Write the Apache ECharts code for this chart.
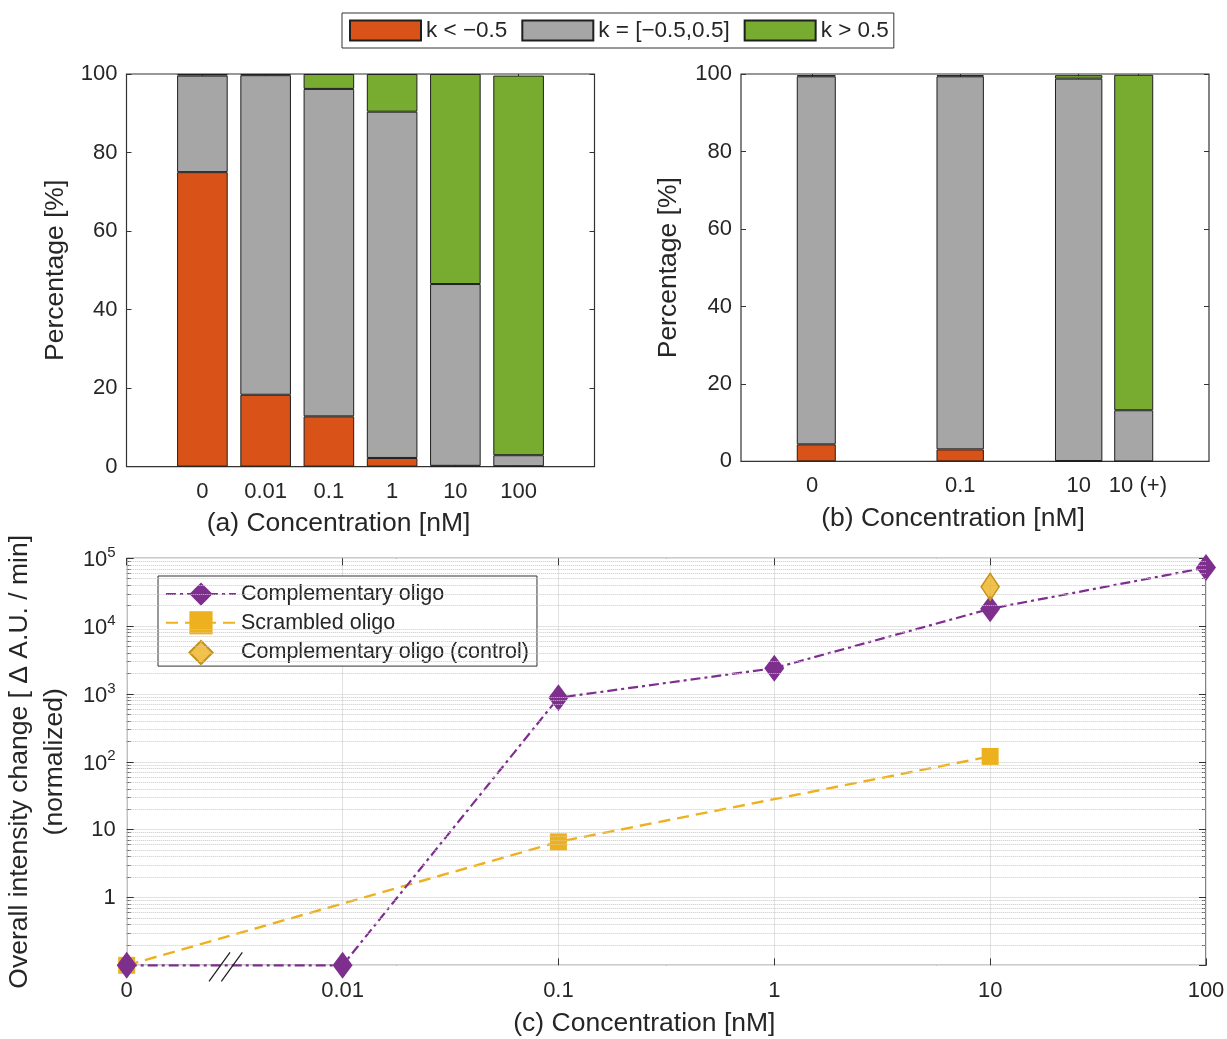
<!DOCTYPE html>
<html><head><meta charset="utf-8">
<script src="https://cdn.jsdelivr.net/npm/echarts@6/dist/echarts.min.js"></script>
<style>html,body{margin:0;padding:0;background:#fff}#c{width:1227px;height:1039px}</style>
</head><body><div id="c"></div>
<script>
// ---------- data ----------
const legendNames = ['k < \u22120.5', 'k = [\u22120.5,0.5]', 'k > 0.5'];
const catsA = ['0', '0.01', '0.1', '1', '10', '100'];
const lowA  = [75.0, 18.3, 12.8, 2.2, 0.2, 0.1];
const midA  = [24.6, 81.4, 83.4, 88.2, 46.3, 2.8];
const highA = [0.4, 0.3, 3.8, 9.6, 53.5, 96.7];
const catsB = ['0', '0.1', '10', '10 (+)'];
const lowB  = [4.4, 3.1, 0.1, 0.0];
const midB  = [95.0, 96.3, 98.7, 13.2];
const highB = [0.3, 0.3, 0.9, 86.6];
const yTicksAB = [0, 20, 40, 60, 80, 100];
const catsC = ['0', '0.01', '0.1', '1', '10', '100'];
const lineNames = ['Complementary oligo', 'Scrambled oligo', 'Complementary oligo (control)'];
const compC = [0.1, 0.1, 880, 2400, 18000, 73000];
const scrC  = [0.1, null, 6.6, null, 120, null];
const ctrlC = [null, null, null, null, 38000, null];

// ---------- layout / style ----------
const posB = [0, 2.5, 4.5, 5.5];              // slot positions (in bar units) of panel (b)
const SLOT = 0.5;                              // slot size used to place panel (b) bars
const PAD = 1.2;                               // axis padding (bar units) left/right of outer bars
const GA = {left: 126.5, top: 74, width: 468, height: 392.6};
const GB = {left: 741, top: 74, width: 468, height: 387.4};
const GC = {left: 126.7, top: 558.3, width: 1079.3, height: 407};
const unitA = GA.width / (catsA.length - 1 + 2 * PAD);
const unitB = GB.width / (posB[posB.length - 1] + 2 * PAD);
const nSlotB = Math.round(posB[posB.length - 1] / SLOT) + 1;
const GA2 = {left: GA.left + (PAD - 0.5) * unitA, top: GA.top, width: catsA.length * unitA, height: GA.height};
const GB2 = {left: GB.left + (PAD - SLOT / 2) * unitB, top: GB.top, width: nSlotB * SLOT * unitB, height: GB.height};
const bwA = unitA * 0.8, bwB = unitB * 0.8;
const slotKeysB = Array.from({length: nSlotB}, (_, j) => 's' + j);
const slotLabelB = slotKeysB.map((k, j) => { const i = posB.findIndex(p => Math.round(p / SLOT) === j); return i >= 0 ? catsB[i] : ''; });
function toSlots(vals) { const a = slotKeysB.map(() => null); posB.forEach((p, i) => { a[Math.round(p / SLOT)] = vals[i]; }); return a; }

const FONT = "'Liberation Sans', Arial, sans-serif";
const TXT = '#262626', FRAME = '#333333';
const colors = ['#D95319', '#A6A6A6', '#77AC30'];
const minorVals = [];
for (let k = -1; k <= 4; k++) for (let m = 2; m <= 9; m++) minorVals.push(Number((m * Math.pow(10, k)).toPrecision(6)));

const frame = {show: true, borderColor: FRAME, borderWidth: 1.2, backgroundColor: 'transparent', outerBoundsMode: 'none', containLabel: false};
const plain = {show: false, outerBoundsMode: 'none', containLabel: false};

function hiddenX(grid) { return {type: 'value', gridIndex: grid, min: 0, max: 1, show: false}; }
function hiddenY(grid) { return {type: 'value', gridIndex: grid, min: yTicksAB[0], max: yTicksAB[yTicksAB.length - 1], show: false}; }
function catBarX(grid, data, top, name, labelFn) {
  const tickShow = labelFn ? (idx) => labelFn(idx) !== '' : true;
  return {
    type: 'category', gridIndex: grid, data: data, boundaryGap: true, position: top ? 'top' : 'bottom',
    axisLine: {show: false, onZero: false},
    axisTick: {show: true, inside: true, length: 5, alignWithLabel: true, interval: labelFn ? (idx) => tickShow(idx) : 0,
      lineStyle: {color: FRAME}},
    axisLabel: {show: !top, interval: 0, margin: 14, fontSize: 22, color: TXT, fontFamily: FONT,
      formatter: labelFn ? (v, idx) => labelFn(idx) : undefined},
    splitLine: {show: false},
    name: top ? '' : name, nameLocation: 'middle', nameGap: 44,
    nameTextStyle: {fontSize: 26.5, color: TXT, fontFamily: FONT, padding: [0, 44, 0, 0]}
  };
}
function barY(grid, right, name, gap) {
  return {
    type: 'value', gridIndex: grid, min: yTicksAB[0], max: yTicksAB[yTicksAB.length - 1],
    interval: yTicksAB[1] - yTicksAB[0], position: right ? 'right' : 'left',
    axisLine: {show: false, onZero: false},
    axisTick: {show: true, inside: true, length: 5, lineStyle: {color: FRAME}},
    axisLabel: {show: !right, margin: 9, fontSize: 22, color: TXT, fontFamily: FONT},
    splitLine: {show: false},
    name: right ? '' : name, nameLocation: 'middle', nameGap: gap, nameRotate: 90,
    nameTextStyle: {fontSize: 26.5, color: TXT, fontFamily: FONT}
  };
}
function barSeries(xi, yi, stack, data, i, bw) {
  return {
    type: 'bar', name: legendNames[i], xAxisIndex: xi, yAxisIndex: yi, stack: stack,
    barWidth: bw, data: data,
    itemStyle: {color: colors[i], borderColor: '#1f1f1f', borderWidth: 1}, emphasis: {disabled: true}
  };
}
function supLabel(v) {
  const e = Math.round(Math.log10(v));
  if (e < 0) return '';
  if (e === 0) return '1';
  if (e === 1) return '10';
  return '{b|10}{s|' + e + '}';
}
function logY(right) {
  return {
    type: 'log', logBase: 10, gridIndex: 4, min: 0.1, max: 100000, position: right ? 'right' : 'left',
    axisLine: {show: false, onZero: false},
    axisTick: {show: true, inside: true, length: 7, lineStyle: {color: FRAME}},
    axisLabel: {show: !right, margin: 11, fontSize: 22, color: TXT, fontFamily: FONT, formatter: supLabel,
      rich: {b: {fontSize: 22, color: TXT, fontFamily: FONT, lineHeight: 26, verticalAlign: 'bottom'},
             s: {fontSize: 15, color: TXT, fontFamily: FONT, lineHeight: 15, verticalAlign: 'top'}}},
    splitLine: {show: !right, lineStyle: {color: '#e2e2e2', width: 1}},
    name: right ? '' : 'Overall intensity change [ \u0394 A.U. / min]\n(normalized)',
    nameLocation: 'middle', nameGap: 46, nameRotate: 90,
    nameTextStyle: {fontSize: 26.5, color: TXT, fontFamily: FONT, lineHeight: 35, align: 'center'}
  };
}
function minorY(right) {
  return {
    type: 'value', gridIndex: 4, min: -1, max: 5, position: right ? 'right' : 'left',
    axisLine: {show: false, onZero: false},
    axisTick: {show: true, inside: true, length: 4, customValues: minorVals.map(v => Math.log10(v)), lineStyle: {color: FRAME}},
    axisLabel: {show: false}, splitLine: {show: false}
  };
}
function catX(top) {
  return {
    type: 'category', gridIndex: 4, data: catsC, boundaryGap: false, position: top ? 'top' : 'bottom',
    axisLine: {show: false, onZero: false},
    axisTick: {show: true, inside: true, length: 7, alignWithLabel: true, lineStyle: {color: FRAME}},
    axisLabel: {show: !top, margin: 15, fontSize: 22, color: TXT, fontFamily: FONT},
    splitLine: {show: !top, lineStyle: {color: '#e2e2e2', width: 1}},
    name: top ? '' : '(c) Concentration [nM]', nameLocation: 'middle', nameGap: 45,
    nameTextStyle: {fontSize: 26.5, color: TXT, fontFamily: FONT, padding: [0, 44, 0, 0]}
  };
}

const labB = idx => slotLabelB[idx];
const chart = echarts.init(document.getElementById('c'));
chart.setOption({
  animation: false,
  textStyle: {fontFamily: FONT, color: TXT},
  grid: [
    Object.assign({}, GA, frame), Object.assign({}, GA2, plain),
    Object.assign({}, GB, frame), Object.assign({}, GB2, plain),
    Object.assign({}, GC, frame)
  ],
  legend: [
    {data: legendNames, orient: 'horizontal', left: 342, top: 13, icon: 'rect', itemWidth: 71, itemHeight: 20,
     itemGap: 14, padding: [6, 5, 6, 7], borderColor: FRAME, borderWidth: 1, backgroundColor: '#fff',
     textStyle: {fontSize: 22.5, color: TXT, fontFamily: FONT}, selectedMode: false},
    {data: lineNames, orient: 'vertical', left: 158, top: 576, itemWidth: 70, itemHeight: 29, itemGap: 5.5,
     padding: [6.5, 8, 1, 7], borderColor: FRAME, borderWidth: 1, backgroundColor: '#fff',
     textStyle: {fontSize: 21.5, color: TXT, fontFamily: FONT}, selectedMode: false}
  ],
  xAxis: [
    hiddenX(0),
    catBarX(1, catsA, false, '(a) Concentration [nM]', null),
    catBarX(1, catsA, true, '', null),
    hiddenX(2),
    catBarX(3, slotKeysB, false, '(b) Concentration [nM]', labB),
    catBarX(3, slotKeysB, true, '', labB),
    catX(false), catX(true)
  ],
  yAxis: [
    barY(0, false, 'Percentage [%]', 57), barY(0, true, '', 0), hiddenY(1),
    barY(2, false, 'Percentage [%]', 59), barY(2, true, '', 0), hiddenY(3),
    logY(false), logY(true), minorY(false), minorY(true)
  ],
  series: [
    barSeries(1, 2, 'a', lowA, 0, bwA), barSeries(1, 2, 'a', midA, 1, bwA), barSeries(1, 2, 'a', highA, 2, bwA),
    barSeries(4, 5, 'b', toSlots(lowB), 0, bwB), barSeries(4, 5, 'b', toSlots(midB), 1, bwB), barSeries(4, 5, 'b', toSlots(highB), 2, bwB),
    {type: 'line', name: 'minor-grid', xAxisIndex: 6, yAxisIndex: 6, data: catsC.map(() => null), z: 1,
     silent: true, symbol: 'none',
     markLine: {silent: true, symbol: 'none', label: {show: false}, animation: false,
       lineStyle: {type: 'dotted', color: '#c9c9c9', width: 1},
       data: minorVals.map(v => ({yAxis: v}))}},
    {type: 'line', name: lineNames[1], xAxisIndex: 6, yAxisIndex: 6, data: scrC, connectNulls: true, clip: false,
     symbol: 'rect', symbolSize: 17, itemStyle: {color: '#EDB120'},
     lineStyle: {color: '#EDB120', width: 2.4, type: [12, 7]}, z: 3},
    {type: 'line', name: lineNames[0], xAxisIndex: 6, yAxisIndex: 6, data: compC, clip: false,
     symbol: 'diamond', symbolSize: [20, 27], itemStyle: {color: '#7E2F8E'},
     lineStyle: {color: '#7E2F8E', width: 2.2, type: [10, 4, 3, 4]}, z: 4},
    {type: 'line', name: lineNames[2], xAxisIndex: 6, yAxisIndex: 6, data: ctrlC, clip: false,
     symbol: 'diamond', symbolSize: [18, 27],
     itemStyle: {color: 'rgba(237,177,32,0.8)', borderColor: '#C4911C', borderWidth: 1.5},
     lineStyle: {width: 0, opacity: 0}, z: 5}
  ]
});

// axis-break mark "//" between the first two categories of panel (c)
const x0 = chart.convertToPixel({xAxisIndex: 6}, catsC[0]);
const x1 = chart.convertToPixel({xAxisIndex: 6}, catsC[1]);
const yb = chart.convertToPixel({yAxisIndex: 6}, 0.1);
const marks = [0.43, 0.487].map(f => {
  const cx = x0 + (x1 - x0) * f;
  return {type: 'line', z: 100, shape: {x1: cx - 10.5, y1: yb + 16, x2: cx + 10.5, y2: yb - 13},
          style: {stroke: '#1a1a1a', lineWidth: 1.2}};
});
chart.setOption({graphic: marks});
</script>
</body></html>
